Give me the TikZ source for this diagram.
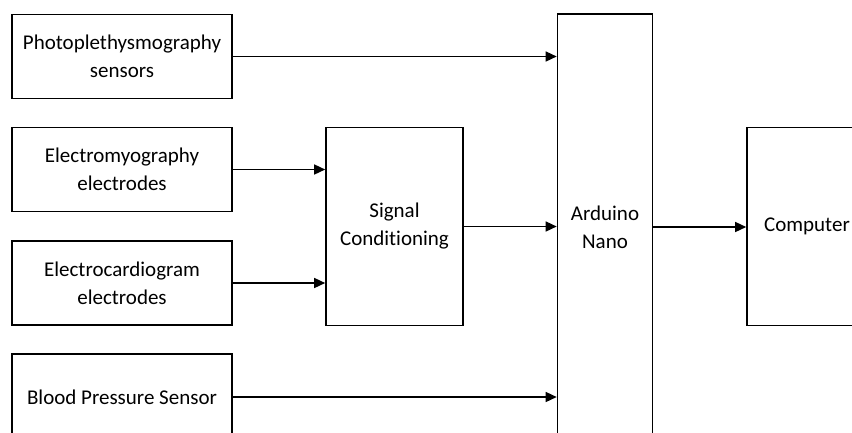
\documentclass[tikz,border=0pt]{standalone}
\usepackage{fontspec}
\setmainfont{Carlito}[Ligatures={NoCommon,NoDiscretionary}]
\usepackage{tikz}
\usetikzlibrary{arrows.meta, positioning, calc}
\definecolor{cLine}{RGB}{0,0,0}
\tikzset{
	block/.style={rectangle, draw=cLine, line width=1.6pt, text centered, align=center, fill=white, inner sep=0pt, font=\fontsize{21}{28}\selectfont},
	flowarrow/.style={-{Triangle[length=11pt, width=10pt]}, line width=1.4pt},
}
\begin{document}
\begin{tikzpicture}[x=1pt, y=-1pt]
	\clip (0,0) rectangle (852,432);
	\fill[white] (0,0) rectangle (852,432);
	% sensors
	\node[block, minimum width=220pt, minimum height=84pt] (ppg) at (122,56.5) {Photoplethysmography\\sensors};
	\node[block, minimum width=220pt, minimum height=84pt] (emg) at (122,169.5) {Electromyography\\electrodes};
	\node[block, minimum width=220pt, minimum height=84pt] (ecg) at (122,283) {Electrocardiogram\\electrodes};
	\node[block, minimum width=220pt, minimum height=86pt] (bp) at (122,397) {Blood Pressure Sensor};
	% processing
	\node[block, minimum width=137pt, minimum height=198pt] (sigcond) at (394.5,226.5) {Signal\\Conditioning};
	\node[block, minimum width=95pt, minimum height=426pt] (nano) at (605,227) {Arduino\\Nano};
	\node[block, minimum width=120pt, minimum height=198pt] (pc) at (807,226.5) {Computer};
	% connections
	\draw[flowarrow] (ppg.east) -- (ppg.east -| nano.west);
	\draw[flowarrow] (emg.east) -- (emg.east -| sigcond.west);
	\draw[flowarrow] (ecg.east) -- (ecg.east -| sigcond.west);
	\draw[flowarrow] (sigcond.east) -- (sigcond.east -| nano.west);
	\draw[flowarrow] (nano.east) -- (nano.east -| pc.west);
	\draw[flowarrow] (bp.east) -- (bp.east -| nano.west);
\end{tikzpicture}
\end{document}
